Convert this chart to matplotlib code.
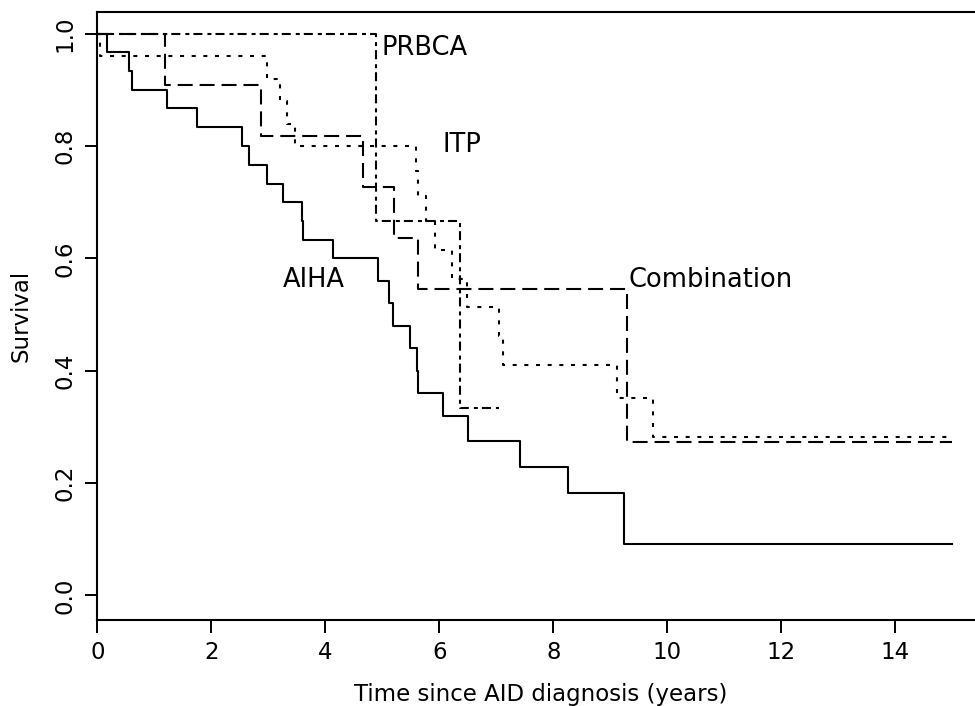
import matplotlib
matplotlib.use("Agg")
import matplotlib.pyplot as plt

# Kaplan-Meier step curves (time in years, survival)
aiha_t = [0, 0.165, 0.56, 0.60, 1.22, 1.75, 2.53, 2.67, 2.98, 3.26, 3.59, 3.61, 4.14,
          4.93, 5.11, 5.19, 5.49, 5.61, 5.63, 6.06, 6.50, 7.42, 8.26, 9.24, 15]
aiha_s = [1, 0.967, 0.933, 0.900, 0.867, 0.833, 0.800, 0.767, 0.733, 0.700, 0.667, 0.633, 0.600,
          0.560, 0.520, 0.480, 0.440, 0.400, 0.360, 0.320, 0.274, 0.229, 0.183, 0.091, 0.091]

itp_t = [0, 0.05, 2.97, 3.21, 3.32, 3.47, 5.59, 5.63, 5.77, 5.93, 6.22, 6.48, 7.04, 7.12,
         9.11, 9.75, 15]
itp_s = [1, 0.96, 0.92, 0.88, 0.84, 0.80, 0.756, 0.711, 0.667, 0.615, 0.564, 0.513, 0.462,
         0.410, 0.352, 0.282, 0.282]

prbca_t = [0, 4.89, 6.36, 7.04]
prbca_s = [1, 0.667, 0.333, 0.333]

comb_t = [0, 1.19, 2.87, 4.67, 5.20, 5.62, 9.29, 15]
comb_s = [1, 0.909, 0.818, 0.727, 0.636, 0.545, 0.273, 0.273]

labels = ["AIHA", "ITP", "PRBCA", "Combination"]
label_x = [3.25, 6.06, 4.99, 9.32]
label_y = [0.549, 0.790, 0.962, 0.549]

plt.rcParams["lines.scale_dashes"] = False

W, H = 975, 706
fig = plt.figure(figsize=(W / 100, H / 100), dpi=100)
ax = fig.add_axes([97.3 / W, 86 / H, (985 - 97.3) / W, 608 / H])

lw = 1.5
ax.step(aiha_t, aiha_s, where="post", color="black", lw=lw)
ax.step(itp_t, itp_s, where="post", color="black", lw=lw, ls=(0, (2.9, 5.5)))
ax.step(prbca_t, prbca_s, where="post", color="black", lw=lw, ls=(0, (2.9, 2.9, 6.5, 3.6)))
ax.step(comb_t, comb_s, where="post", color="black", lw=lw, ls=(0, (10.8, 5.0)))

for name, x, y in zip(labels, label_x, label_y):
    ax.text(x, y, name, fontsize=18.5, ha="left", va="baseline")

ax.set_xlim(0, (985 - 97.3) / 57.0)
ax.set_ylim(-0.0438, 1.0386)
ax.set_xticks(range(0, 15, 2))
ax.set_yticks([0, 0.2, 0.4, 0.6, 0.8, 1.0])
ax.set_yticklabels(["0.0", "0.2", "0.4", "0.6", "0.8", "1.0"])
ax.tick_params(length=9, width=1.4, labelsize=16.5, pad=6)
for lab in ax.get_yticklabels():
    lab.set_rotation(90)
    lab.set_va("center")
for sp in ax.spines.values():
    sp.set_linewidth(1.5)

ax.set_xlabel("Time since AID diagnosis (years)", fontsize=16.5, labelpad=14)
ax.set_ylabel("Survival", fontsize=16.5, labelpad=15)

fig.savefig("out.png", dpi=100)
